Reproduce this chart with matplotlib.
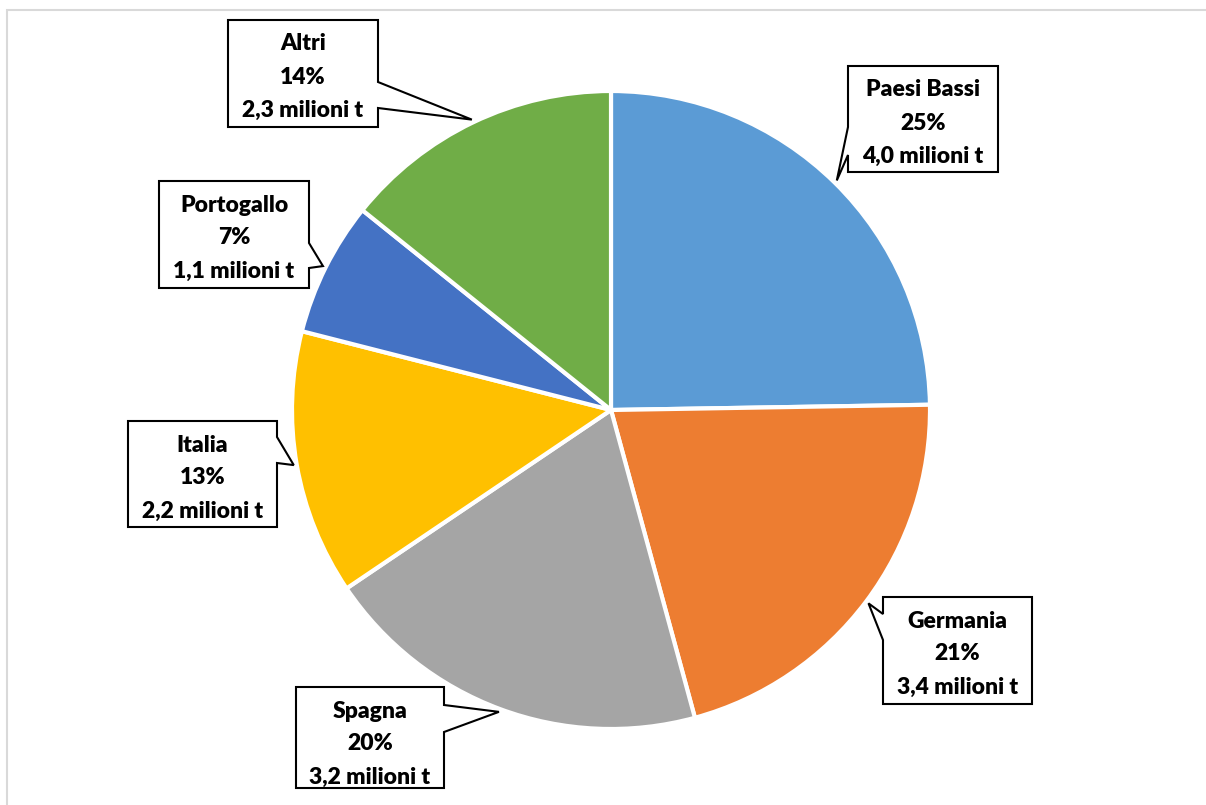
import numpy as np
import matplotlib.pyplot as plt
from matplotlib.patches import Polygon, Rectangle

# Data
countries = ["Paesi Bassi", "Germania", "Spagna", "Italia", "Portogallo", "Altri"]
tonnes_mln = [4.0, 3.4, 3.2, 2.17, 1.1, 2.3]
colors = ["#5B9BD5", "#ED7D31", "#A5A5A5", "#FFC000", "#4472C4", "#70AD47"]

W, H = 1206, 805
fig = plt.figure(figsize=(W / 100, H / 100), dpi=100)
ax = fig.add_axes([0, 0, 1, 1])


def fy(y):
    # convert top-down pixel row into axis y
    return H - y


cx, cy, r = 611, fy(410), 319
ax.pie(tonnes_mln, colors=colors, startangle=90, counterclock=False,
       center=(cx, cy), radius=r, frame=True,
       wedgeprops=dict(edgecolor="white", linewidth=3))
ax.set_xlim(0, W)
ax.set_ylim(0, H)
ax.set_aspect("equal")
ax.axis("off")

# chart area frame
ax.add_patch(Rectangle((7, -10), W + 20, fy(10) + 10, fill=False,
                       edgecolor="#D9D9D9", lw=1.5, zorder=0))

total = sum(tonnes_mln)
shares = [v / total for v in tonnes_mln]

# callout boxes: (left, top, right, bottom), side of pointer, pointer rows
boxes = {
    "Paesi Bassi": ((848, 66, 998, 172), "left", (127, 155)),
    "Germania": ((883, 597, 1032, 704), "left", (614, 640)),
    "Spagna": ((296, 687, 444, 788), "right", (705, 732)),
    "Italia": ((128, 421, 277, 527), "right", (437, 463)),
    "Portogallo": ((159, 181, 309, 288), "right", (243, 268)),
    "Altri": ((228, 20, 378, 127), "right", (82, 108)),
}

start = 90.0
for name, v, s in zip(countries, tonnes_mln, shares):
    span = s * 360
    mid = np.deg2rad(start - span / 2)
    start -= span
    tip = (cx + (r + 3) * np.cos(mid), cy + (r + 3) * np.sin(mid))
    (l, t, rt, b), side, (p1, p2) = boxes[name]
    if side == "right":
        corners = [(l, t), (rt, t), (rt, p1), None, (rt, p2), (rt, b), (l, b)]
    else:
        corners = [(l, t), (rt, t), (rt, b), (l, b), (l, p2), None, (l, p1)]
    pts = [tip if c is None else (c[0], fy(c[1])) for c in corners]
    ax.add_patch(Polygon(pts, closed=True, facecolor="white",
                         edgecolor="black", lw=1.5, zorder=5))
    xc = (l + rt) / 2
    lines = [name, f"{round(s * 100):d}%",
             f"{v:.1f}".replace(".", ",") + " milioni t"]
    for k, txt in enumerate(lines):
        ax.text(xc, fy(t + 24 + 33 * k), txt, ha="center", va="center",
                fontsize=16.5, fontweight="heavy", family="Lato",
                color="black", zorder=6)

fig.savefig("out.png", dpi=100)
